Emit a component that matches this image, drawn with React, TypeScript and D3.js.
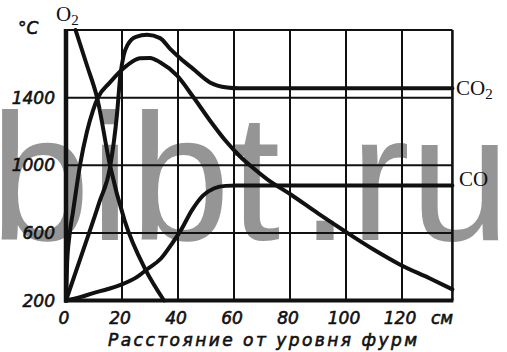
import React, { useEffect, useRef } from 'react';
import * as d3 from 'd3';

// distance from the tuyere level, cm / temperature, °C
const xTicks = [0, 20, 40, 60, 80, 100, 120];
const yTicks = [200, 600, 1000, 1400];
const xMax = 138;
const yMin = 200;
const yMax = 1800;

const o2Curve: [number, number][] = [
  [3.4, 1800], [7.5, 1590], [11.1, 1400], [15.7, 1000], [21, 670], [28.3, 385], [35, 200]
];
const upperCurve: [number, number][] = [
  [0, 200], [6, 490], [12, 786], [15.7, 985], [18.2, 1300], [19.4, 1530], [20.6, 1650],
  [22, 1712], [25, 1760], [29, 1772], [33.6, 1752], [37.1, 1690], [41, 1630],
  [45.4, 1570], [51.4, 1490], [57.5, 1460], [62, 1455], [138, 1455]
];
const lowerCurve: [number, number][] = [
  [0, 200], [0.4, 420], [1.2, 580], [2.5, 725], [5, 1000], [7.5, 1200], [9.6, 1322],
  [11.4, 1400], [15.7, 1490], [21.8, 1591], [26.4, 1633], [30, 1635], [33.6, 1609],
  [39.6, 1531], [45.4, 1405], [51.4, 1265], [57, 1145], [62, 1055], [66, 995],
  [72, 915], [80, 830], [90, 715], [100, 605], [110, 500], [119, 415], [130, 330], [138, 266]
];
const coCurve: [number, number][] = [
  [0, 200], [5, 220], [10, 245], [15, 268], [20, 295], [25, 335], [29, 385], [34, 450],
  [38, 540], [41, 615], [45, 735], [49, 822], [53, 864], [57, 878], [61, 880], [138, 880]
];

const App: React.FC = () => {
  const svgRef = useRef<SVGSVGElement>(null);

  useEffect(() => {
    if (!svgRef.current) return;
    const width = 507;
    const height = 352;

    d3.select(svgRef.current).selectAll('*').remove();
    const svg = d3.select(svgRef.current)
      .attr('width', width)
      .attr('height', height);

    svg.append('rect').attr('width', width).attr('height', height).attr('fill', '#fff');

    // watermark
    const wm = svg.append('g')
      .attr('fill', '#959595')
      .style('font-family', '"Liberation Sans", Arial, sans-serif')
      .style('font-size', '180px');
    wm.append('text').attr('x', -10).attr('y', 240).text('bibt');
    wm.append('text').attr('x', 300).attr('y', 240).text('.ru');

    const x = d3.scaleLinear().domain([0, xMax]).range([66, 452.4]);
    const y = d3.scaleLinear().domain([yMin, yMax]).range([300.5, 30]);

    const ink = '#111';

    // grid
    svg.append('g')
      .selectAll('line')
      .data(xTicks.filter(d => d > 0))
      .enter()
      .append('line')
      .attr('x1', d => x(d))
      .attr('x2', d => x(d))
      .attr('y1', y(yMax))
      .attr('y2', y(yMin))
      .attr('stroke', ink)
      .attr('stroke-width', 2);

    svg.append('g')
      .selectAll('line')
      .data(yTicks.filter(d => d > yMin))
      .enter()
      .append('line')
      .attr('x1', x(0))
      .attr('x2', x(xMax))
      .attr('y1', d => y(d))
      .attr('y2', d => y(d))
      .attr('stroke', ink)
      .attr('stroke-width', 2);

    // frame
    svg.append('line').attr('x1', x(0)).attr('x2', x(xMax)).attr('y1', y(yMax)).attr('y2', y(yMax))
      .attr('stroke', ink).attr('stroke-width', 2.2);
    svg.append('line').attr('x1', x(xMax)).attr('x2', x(xMax)).attr('y1', y(yMax)).attr('y2', y(yMin))
      .attr('stroke', ink).attr('stroke-width', 2.6);
    svg.append('line').attr('x1', x(0)).attr('x2', x(0)).attr('y1', y(yMax) - 1).attr('y2', y(yMin) + 2)
      .attr('stroke', ink).attr('stroke-width', 4.5);
    svg.append('line').attr('x1', x(0) - 2).attr('x2', x(xMax) + 1).attr('y1', y(yMin)).attr('y2', y(yMin))
      .attr('stroke', ink).attr('stroke-width', 4);

    // curves
    const line = d3.line<[number, number]>()
      .x(d => x(d[0]))
      .y(d => y(d[1]))
      .curve(d3.curveMonotoneX);

    [o2Curve, upperCurve, lowerCurve, coCurve].forEach(c => {
      svg.append('path')
        .datum(c)
        .attr('d', line)
        .attr('fill', 'none')
        .attr('stroke', ink)
        .attr('stroke-width', 4)
        .attr('stroke-linecap', 'round')
        .attr('stroke-linejoin', 'round');
    });

    // tick labels
    const tickFont = '"DejaVu Sans", sans-serif';
    const italicText = (sel: d3.Selection<SVGTextElement, any, any, any>) => sel
      .attr('fill', ink)
      .attr('stroke', ink)
      .attr('stroke-width', 0.6)
      .style('font-family', tickFont)
      .style('font-style', 'italic')
      .style('font-size', '17px');

    svg.append('g')
      .selectAll('text')
      .data(yTicks)
      .enter()
      .append('text')
      .attr('x', 55)
      .attr('y', d => y(d) + 6)
      .attr('text-anchor', 'end')
      .call(italicText)
      .text(d => d);

    svg.append('g')
      .selectAll('text')
      .data(xTicks)
      .enter()
      .append('text')
      .attr('x', d => x(d) - 2)
      .attr('y', 324)
      .attr('text-anchor', 'middle')
      .call(italicText)
      .text(d => d);

    svg.append('text')
      .attr('x', 442)
      .attr('y', 324)
      .attr('text-anchor', 'middle')
      .call(italicText)
      .text('см');

    svg.append('text')
      .attr('x', 108)
      .attr('y', 346)
      .attr('textLength', 309)
      .attr('lengthAdjust', 'spacing')
      .call(italicText)
      .text('Расстояние от уровня фурм');

    svg.append('text')
      .attr('x', 18)
      .attr('y', 34)
      .call(italicText)
      .text('°C');

    // gas labels
    const serif = '"Liberation Serif", "DejaVu Serif", serif';
    const gasLabel = (lx: number, ly: number, base: string, sub?: string) => {
      const t = svg.append('text')
        .attr('x', lx)
        .attr('y', ly)
        .attr('fill', ink)
        .style('font-family', serif)
        .style('font-size', '21px');
      t.append('tspan').text(base);
      if (sub) {
        t.append('tspan').attr('dy', 4).style('font-size', '15px').text(sub);
      }
    };
    gasLabel(56, 21, 'O', '2');
    gasLabel(456, 95, 'CO', '2');
    gasLabel(459, 186, 'CO');
  }, []);

  return (
    <svg ref={svgRef} style={{ position: 'absolute', left: 0, top: 0 }} />
  );
};

export default App;
